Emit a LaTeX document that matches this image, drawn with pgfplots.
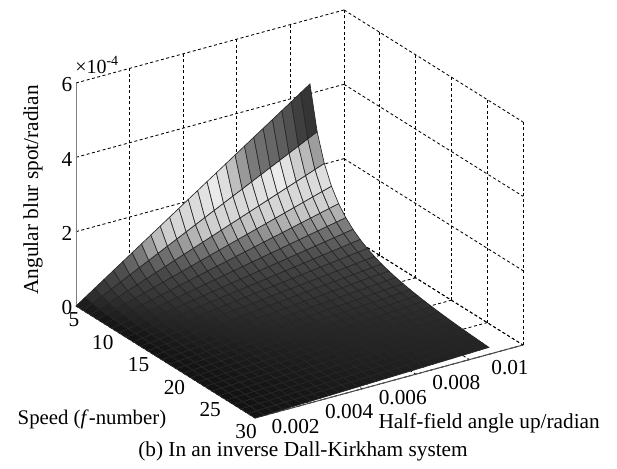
\documentclass[border=0pt]{standalone}
\usepackage{fontspec}
\setmainfont{Liberation Serif}
\usepackage{pgfplots}
\pgfplotsset{compat=1.18}
\begin{document}
\begin{tikzpicture}
\path[use as bounding box] (0pt,0pt) rectangle (617pt,468pt);
\begin{axis}[
  at={(76pt,162pt)}, anchor=origin,
  x={(7.16pt,-4.48pt)}, y={(26.8pt,7.3pt)}, z={(0pt,37.17pt)},
  xmin=5,xmax=30,ymin=0,ymax=10,zmin=0,zmax=6,
  clip=false,
  font=\fontsize{21.3}{23}\selectfont,
  axis line style={draw=none},
  major tick length=0pt,
  tick style={draw=none},
  xtick={5,10,15,20,25,30}, xticklabels={\hspace*{14pt}5,10,15,20,25,30},
  ytick={0,2,4,6,8,10}, yticklabels={{},0.002,0.004,0.006,0.008,0.01},
  ztick={0,2,4,6}, zticklabels={0,2,4,6},
  xticklabel style={anchor=center,xshift=-9pt,yshift=-14pt},
  yticklabel style={anchor=center,xshift=-13pt,yshift=-23pt},
  zticklabel style={anchor=center,xshift=-9pt,yshift=-2pt},
  grid=major,
  grid style={black,dash pattern=on 3pt off 2.5pt,line width=0.85pt},
  xlabel={Speed (\textit{f}-number)},
  ylabel={Half-field angle up/radian},
  zlabel={Angular blur spot/radian},
  xlabel style={at={(axis cs:23.25,-4.28,0)},anchor=center,font=\fontsize{20.8}{23}\selectfont},
  ylabel style={at={(axis cs:40.7,5.88,0)},anchor=center,font=\fontsize{21.3}{23}\selectfont},
  zlabel style={at={(axis cs:5,-1.6,3.44)},anchor=center,rotate=0,font=\fontsize{21.3}{23}\selectfont},
  colormap={shade}{gray(0pt)=(.07); gray(1pt)=(.135); gray(2pt)=(.18); gray(3pt)=(.215); gray(4pt)=(.24); gray(5pt)=(.27); gray(6pt)=(.30); gray(7pt)=(.37); gray(8pt)=(.42); gray(9pt)=(.49); gray(10pt)=(.60); gray(11pt)=(.70); gray(12pt)=(.77); gray(13pt)=(.815); gray(14pt)=(.84); gray(15pt)=(.845); gray(16pt)=(.85); gray(17pt)=(.86); gray(18pt)=(.88); gray(19pt)=(.9); gray(20pt)=(.93); gray(21pt)=(.87); gray(22pt)=(.77); gray(23pt)=(.70); gray(24pt)=(.56); gray(25pt)=(.48); gray(26pt)=(.45); gray(27pt)=(.42); gray(28pt)=(.40); gray(29pt)=(.375); gray(30pt)=(.34); gray(31pt)=(.29); gray(32pt)=(.24); gray(33pt)=(.21); gray(34pt)=(.2); gray(35pt)=(.18); gray(36pt)=(.17); gray(37pt)=(.16); gray(38pt)=(.16); gray(39pt)=(.15); gray(40pt)=(.15)},
  point meta min=0, point meta max=1,
]
\draw[gray,line width=1pt] (axis cs:5,0,0) -- (axis cs:5,0,6);
\draw[black!70,line width=1pt] (axis cs:30,0,0) -- (axis cs:30,10,0);
\addplot3[surf,shader=faceted,faceted color=black!85,line width=0.65pt,mesh/rows=26,z buffer=sort,
  point meta={\thisrow{u}/8.73*(5/\thisrow{f})^2}]
 table {
f u z
5 0 0
5 .349 .170
5 .698 .341
5 1.048 .511
5 1.397 .682
5 1.746 .852
5 2.095 1.022
5 2.444 1.193
5 2.794 1.363
5 3.143 1.534
5 3.492 1.704
5 3.841 1.874
5 4.19 2.045
5 4.54 2.215
5 4.889 2.386
5 5.238 2.556
5 5.587 2.726
5 5.936 2.897
5 6.286 3.067
5 6.635 3.238
5 6.984 3.408
5 7.333 3.578
5 7.682 3.749
5 8.032 3.919
5 8.381 4.09
5 8.73 4.26
6 0 0
6 .349 .124
6 .698 .248
6 1.048 .372
6 1.397 .495
6 1.746 .619
6 2.095 .743
6 2.444 .867
6 2.794 .991
6 3.143 1.115
6 3.492 1.238
6 3.841 1.362
6 4.19 1.486
6 4.54 1.61
6 4.889 1.734
6 5.238 1.858
6 5.587 1.981
6 5.936 2.105
6 6.286 2.229
6 6.635 2.353
6 6.984 2.477
6 7.333 2.601
6 7.682 2.724
6 8.032 2.848
6 8.381 2.972
6 8.73 3.096
7 0 0
7 .349 .095
7 .698 .189
7 1.048 .284
7 1.397 .378
7 1.746 .473
7 2.095 .567
7 2.444 .662
7 2.794 .756
7 3.143 .851
7 3.492 .946
7 3.841 1.04
7 4.19 1.135
7 4.54 1.229
7 4.889 1.324
7 5.238 1.418
7 5.587 1.513
7 5.936 1.608
7 6.286 1.702
7 6.635 1.797
7 6.984 1.891
7 7.333 1.986
7 7.682 2.08
7 8.032 2.175
7 8.381 2.269
7 8.73 2.364
8 0 0
8 .349 .075
8 .698 .15
8 1.048 .225
8 1.397 .299
8 1.746 .374
8 2.095 .449
8 2.444 .524
8 2.794 .599
8 3.143 .674
8 3.492 .748
8 3.841 .823
8 4.19 .898
8 4.54 .973
8 4.889 1.048
8 5.238 1.123
8 5.587 1.197
8 5.936 1.272
8 6.286 1.347
8 6.635 1.422
8 6.984 1.497
8 7.333 1.572
8 7.682 1.646
8 8.032 1.721
8 8.381 1.796
8 8.73 1.871
9 0 0
9 .349 .061
9 .698 .122
9 1.048 .183
9 1.397 .244
9 1.746 .305
9 2.095 .366
9 2.444 .426
9 2.794 .487
9 3.143 .548
9 3.492 .609
9 3.841 .67
9 4.19 .731
9 4.54 .792
9 4.889 .853
9 5.238 .914
9 5.587 .975
9 5.936 1.036
9 6.286 1.097
9 6.635 1.157
9 6.984 1.218
9 7.333 1.279
9 7.682 1.34
9 8.032 1.401
9 8.381 1.462
9 8.73 1.523
10 0 0
10 .349 .051
10 .698 .101
10 1.048 .152
10 1.397 .203
10 1.746 .253
10 2.095 .304
10 2.444 .355
10 2.794 .405
10 3.143 .456
10 3.492 .507
10 3.841 .557
10 4.19 .608
10 4.54 .659
10 4.889 .71
10 5.238 .76
10 5.587 .811
10 5.936 .862
10 6.286 .912
10 6.635 .963
10 6.984 1.014
10 7.333 1.064
10 7.682 1.115
10 8.032 1.166
10 8.381 1.216
10 8.73 1.267
11 0 0
11 .349 .043
11 .698 .086
11 1.048 .129
11 1.397 .172
11 1.746 .214
11 2.095 .257
11 2.444 .3
11 2.794 .343
11 3.143 .386
11 3.492 .429
11 3.841 .472
11 4.19 .515
11 4.54 .557
11 4.889 .6
11 5.238 .643
11 5.587 .686
11 5.936 .729
11 6.286 .772
11 6.635 .815
11 6.984 .858
11 7.333 .9
11 7.682 .943
11 8.032 .986
11 8.381 1.029
11 8.73 1.072
12 0 0
12 .349 .037
12 .698 .074
12 1.048 .11
12 1.397 .147
12 1.746 .184
12 2.095 .221
12 2.444 .258
12 2.794 .295
12 3.143 .331
12 3.492 .368
12 3.841 .405
12 4.19 .442
12 4.54 .479
12 4.889 .515
12 5.238 .552
12 5.587 .589
12 5.936 .626
12 6.286 .663
12 6.635 .7
12 6.984 .736
12 7.333 .773
12 7.682 .81
12 8.032 .847
12 8.381 .884
12 8.73 .921
13 0 0
13 .349 .032
13 .698 .064
13 1.048 .096
13 1.397 .128
13 1.746 .16
13 2.095 .192
13 2.444 .224
13 2.794 .256
13 3.143 .288
13 3.492 .32
13 3.841 .352
13 4.19 .384
13 4.54 .416
13 4.889 .448
13 5.238 .48
13 5.587 .512
13 5.936 .544
13 6.286 .576
13 6.635 .608
13 6.984 .64
13 7.333 .672
13 7.682 .704
13 8.032 .736
13 8.381 .768
13 8.73 .8
14 0 0
14 .349 .028
14 .698 .056
14 1.048 .084
14 1.397 .112
14 1.746 .141
14 2.095 .169
14 2.444 .197
14 2.794 .225
14 3.143 .253
14 3.492 .281
14 3.841 .309
14 4.19 .337
14 4.54 .365
14 4.889 .394
14 5.238 .422
14 5.587 .45
14 5.936 .478
14 6.286 .506
14 6.635 .534
14 6.984 .562
14 7.333 .59
14 7.682 .618
14 8.032 .647
14 8.381 .675
14 8.73 .703
15 0 0
15 .349 .025
15 .698 .05
15 1.048 .075
15 1.397 .1
15 1.746 .125
15 2.095 .15
15 2.444 .174
15 2.794 .199
15 3.143 .224
15 3.492 .249
15 3.841 .274
15 4.19 .299
15 4.54 .324
15 4.889 .349
15 5.238 .374
15 5.587 .399
15 5.936 .424
15 6.286 .449
15 6.635 .473
15 6.984 .498
15 7.333 .523
15 7.682 .548
15 8.032 .573
15 8.381 .598
15 8.73 .623
16 0 0
16 .349 .022
16 .698 .045
16 1.048 .067
16 1.397 .089
16 1.746 .111
16 2.095 .134
16 2.444 .156
16 2.794 .178
16 3.143 .2
16 3.492 .223
16 3.841 .245
16 4.19 .267
16 4.54 .289
16 4.889 .312
16 5.238 .334
16 5.587 .356
16 5.936 .378
16 6.286 .401
16 6.635 .423
16 6.984 .445
16 7.333 .467
16 7.682 .49
16 8.032 .512
16 8.381 .534
16 8.73 .556
17 0 0
17 .349 .02
17 .698 .04
17 1.048 .06
17 1.397 .08
17 1.746 .1
17 2.095 .12
17 2.444 .14
17 2.794 .16
17 3.143 .18
17 3.492 .2
17 3.841 .22
17 4.19 .24
17 4.54 .26
17 4.889 .28
17 5.238 .3
17 5.587 .32
17 5.936 .34
17 6.286 .36
17 6.635 .38
17 6.984 .4
17 7.333 .42
17 7.682 .44
17 8.032 .46
17 8.381 .48
17 8.73 .5
18 0 0
18 .349 .018
18 .698 .036
18 1.048 .054
18 1.397 .072
18 1.746 .091
18 2.095 .109
18 2.444 .127
18 2.794 .145
18 3.143 .163
18 3.492 .181
18 3.841 .199
18 4.19 .217
18 4.54 .236
18 4.889 .254
18 5.238 .272
18 5.587 .29
18 5.936 .308
18 6.286 .326
18 6.635 .344
18 6.984 .362
18 7.333 .381
18 7.682 .399
18 8.032 .417
18 8.381 .435
18 8.73 .453
19 0 0
19 .349 .016
19 .698 .033
19 1.048 .049
19 1.397 .066
19 1.746 .082
19 2.095 .099
19 2.444 .115
19 2.794 .132
19 3.143 .148
19 3.492 .165
19 3.841 .181
19 4.19 .198
19 4.54 .214
19 4.889 .231
19 5.238 .247
19 5.587 .264
19 5.936 .28
19 6.286 .297
19 6.635 .313
19 6.984 .33
19 7.333 .346
19 7.682 .363
19 8.032 .379
19 8.381 .396
19 8.73 .412
20 0 0
20 .349 .015
20 .698 .03
20 1.048 .045
20 1.397 .06
20 1.746 .075
20 2.095 .09
20 2.444 .105
20 2.794 .12
20 3.143 .136
20 3.492 .151
20 3.841 .166
20 4.19 .181
20 4.54 .196
20 4.889 .211
20 5.238 .226
20 5.587 .241
20 5.936 .256
20 6.286 .271
20 6.635 .286
20 6.984 .301
20 7.333 .316
20 7.682 .331
20 8.032 .346
20 8.381 .361
20 8.73 .377
21 0 0
21 .349 .014
21 .698 .028
21 1.048 .042
21 1.397 .055
21 1.746 .069
21 2.095 .083
21 2.444 .097
21 2.794 .111
21 3.143 .125
21 3.492 .138
21 3.841 .152
21 4.19 .166
21 4.54 .18
21 4.889 .194
21 5.238 .208
21 5.587 .221
21 5.936 .235
21 6.286 .249
21 6.635 .263
21 6.984 .277
21 7.333 .291
21 7.682 .304
21 8.032 .318
21 8.381 .332
21 8.73 .346
22 0 0
22 .349 .013
22 .698 .026
22 1.048 .038
22 1.397 .051
22 1.746 .064
22 2.095 .077
22 2.444 .089
22 2.794 .102
22 3.143 .115
22 3.492 .128
22 3.841 .14
22 4.19 .153
22 4.54 .166
22 4.889 .179
22 5.238 .191
22 5.587 .204
22 5.936 .217
22 6.286 .23
22 6.635 .242
22 6.984 .255
22 7.333 .268
22 7.682 .281
22 8.032 .293
22 8.381 .306
22 8.73 .319
23 0 0
23 .349 .012
23 .698 .024
23 1.048 .035
23 1.397 .047
23 1.746 .059
23 2.095 .071
23 2.444 .083
23 2.794 .094
23 3.143 .106
23 3.492 .118
23 3.841 .13
23 4.19 .142
23 4.54 .153
23 4.889 .165
23 5.238 .177
23 5.587 .189
23 5.936 .201
23 6.286 .212
23 6.635 .224
23 6.984 .236
23 7.333 .248
23 7.682 .26
23 8.032 .271
23 8.381 .283
23 8.73 .295
24 0 0
24 .349 .011
24 .698 .022
24 1.048 .033
24 1.397 .044
24 1.746 .055
24 2.095 .066
24 2.444 .077
24 2.794 .088
24 3.143 .099
24 3.492 .11
24 3.841 .12
24 4.19 .131
24 4.54 .142
24 4.889 .153
24 5.238 .164
24 5.587 .175
24 5.936 .186
24 6.286 .197
24 6.635 .208
24 6.984 .219
24 7.333 .23
24 7.682 .241
24 8.032 .252
24 8.381 .263
24 8.73 .274
25 0 0
25 .349 .01
25 .698 .02
25 1.048 .031
25 1.397 .041
25 1.746 .051
25 2.095 .061
25 2.444 .071
25 2.794 .082
25 3.143 .092
25 3.492 .102
25 3.841 .112
25 4.19 .122
25 4.54 .132
25 4.889 .143
25 5.238 .153
25 5.587 .163
25 5.936 .173
25 6.286 .183
25 6.635 .194
25 6.984 .204
25 7.333 .214
25 7.682 .224
25 8.032 .234
25 8.381 .245
25 8.73 .255
26 0 0
26 .349 .01
26 .698 .019
26 1.048 .029
26 1.397 .038
26 1.746 .048
26 2.095 .057
26 2.444 .067
26 2.794 .076
26 3.143 .086
26 3.492 .095
26 3.841 .105
26 4.19 .114
26 4.54 .124
26 4.889 .133
26 5.238 .143
26 5.587 .152
26 5.936 .162
26 6.286 .171
26 6.635 .181
26 6.984 .19
26 7.333 .2
26 7.682 .209
26 8.032 .219
26 8.381 .228
26 8.73 .238
27 0 0
27 .349 .009
27 .698 .018
27 1.048 .027
27 1.397 .036
27 1.746 .045
27 2.095 .053
27 2.444 .062
27 2.794 .071
27 3.143 .08
27 3.492 .089
27 3.841 .098
27 4.19 .107
27 4.54 .116
27 4.889 .125
27 5.238 .134
27 5.587 .143
27 5.936 .151
27 6.286 .16
27 6.635 .169
27 6.984 .178
27 7.333 .187
27 7.682 .196
27 8.032 .205
27 8.381 .214
27 8.73 .223
28 0 0
28 .349 .008
28 .698 .017
28 1.048 .025
28 1.397 .033
28 1.746 .042
28 2.095 .05
28 2.444 .059
28 2.794 .067
28 3.143 .075
28 3.492 .084
28 3.841 .092
28 4.19 .1
28 4.54 .109
28 4.889 .117
28 5.238 .125
28 5.587 .134
28 5.936 .142
28 6.286 .15
28 6.635 .159
28 6.984 .167
28 7.333 .176
28 7.682 .184
28 8.032 .192
28 8.381 .201
28 8.73 .209
29 0 0
29 .349 .008
29 .698 .016
29 1.048 .024
29 1.397 .031
29 1.746 .039
29 2.095 .047
29 2.444 .055
29 2.794 .063
29 3.143 .071
29 3.492 .079
29 3.841 .086
29 4.19 .094
29 4.54 .102
29 4.889 .11
29 5.238 .118
29 5.587 .126
29 5.936 .134
29 6.286 .141
29 6.635 .149
29 6.984 .157
29 7.333 .165
29 7.682 .173
29 8.032 .181
29 8.381 .189
29 8.73 .197
30 0 0
30 .349 .007
30 .698 .015
30 1.048 .022
30 1.397 .03
30 1.746 .037
30 2.095 .044
30 2.444 .052
30 2.794 .059
30 3.143 .067
30 3.492 .074
30 3.841 .081
30 4.19 .089
30 4.54 .096
30 4.889 .104
30 5.238 .111
30 5.587 .118
30 5.936 .126
30 6.286 .133
30 6.635 .141
30 6.984 .148
30 7.333 .155
30 7.682 .163
30 8.032 .17
30 8.381 .178
30 8.73 .185
};
\end{axis}
\node[font=\fontsize{21.3}{23}\selectfont] at (303pt,17pt) {(b) In an inverse Dall-Kirkham system};
\node[font=\fontsize{20}{22}\selectfont] at (97pt,403pt) {×10\textsuperscript{-4}};
\end{tikzpicture}
\end{document}
